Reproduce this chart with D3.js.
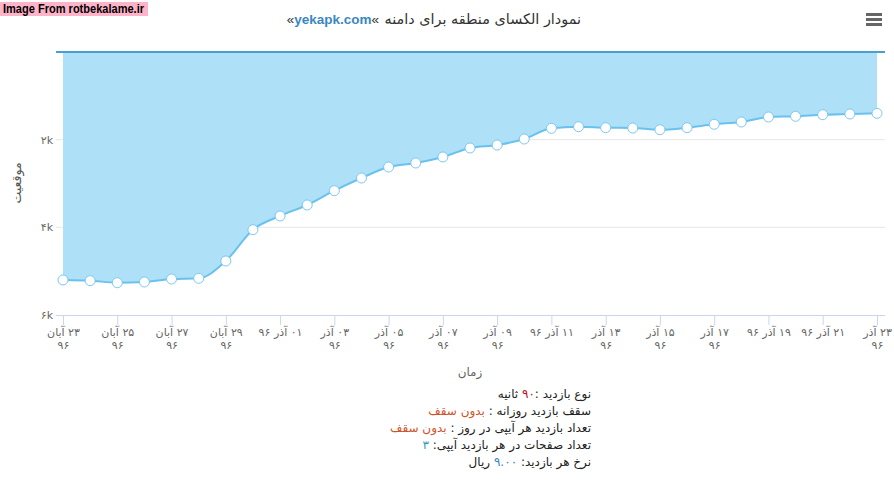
<!DOCTYPE html>
<html>
<head>
<meta charset="utf-8">
<script src="https://cdn.jsdelivr.net/npm/d3@7"></script>
<style>
  body { margin: 0; background: #fff; }
  #chart { position: relative; width: 894px; height: 504px; overflow: hidden; }
  #info {
    position: absolute; left: 330px; top: 386px; width: 261px;
    direction: rtl; text-align: right;
    font-family: "DejaVu Sans", sans-serif; font-size: 12px; line-height: 17px; color: #222;
  }
  #info .red { color: #b5121b; }
  #info .orange { color: #d0532a; }
  #info .teal { color: #2f9bb4; }
  #info .blue { color: #3a87c0; }
</style>
</head>
<body>
<div id="chart">
  <div id="info">
    <div>نوع بازدید :<span class="red">۹۰</span> ثانیه</div>
    <div>سقف بازدید روزانه : <span class="orange">بدون سقف</span></div>
    <div>تعداد بازدید هر آیپی در روز : <span class="orange">بدون سقف</span></div>
    <div>تعداد صفحات در هر بازدید آیپی: <span class="teal">۳</span></div>
    <div>نرخ هر بازدید: <span class="blue">۹.۰۰</span> ریال</div>
  </div>
</div>
<script>
// one point per day, 23 Aban 96 .. 23 Azar 96
const days = d3.range(31);

// Alexa regional rank (lower is better, axis reversed)
const rank = [5201, 5217, 5263, 5247, 5179, 5163, 4768, 4054, 3741, 3490, 3164,
  2875, 2624, 2532, 2395, 2190, 2122, 1985, 1741, 1704, 1727, 1734, 1773, 1727,
  1649, 1597, 1483, 1467, 1430, 1414, 1399];

// every other day has a label; "\n" marks where the label wraps
const tickDays = d3.range(0, 31, 2);
const tickLabels = ["۲۳ آبان\n۹۶", "۲۵ آبان\n۹۶", "۲۷ آبان\n۹۶", "۲۹ آبان\n۹۶",
  "۰۱ آذر ۹۶", "۰۳ آذر\n۹۶", "۰۵ آذر\n۹۶", "۰۷ آذر\n۹۶", "۰۹ آذر\n۹۶",
  "۱۱ آذر ۹۶", "۱۳ آذر\n۹۶", "۱۵ آذر\n۹۶", "۱۷ آذر\n۹۶", "۱۹ آذر ۹۶",
  "۲۱ آذر ۹۶", "۲۳ آذر\n۹۶"];

const yTicks = [2000, 4000, 6000];
const yTickLabels = ["۲k", "۴k", "۶k"];

const W = 894, H = 504;
const plotLeft = 56, plotRight = 885, plotTop = 52, plotBottom = 315;
const faFont = "'DejaVu Sans', sans-serif";
const latinFont = "'Liberation Sans', Arial, sans-serif";

const svg = d3.select("#chart").insert("svg", "#info")
  .attr("width", W).attr("height", H)
  .style("position", "absolute").style("left", 0).style("top", 0);

const x = d3.scaleLinear().domain([0, 30]).range([63, 877]);
const y = d3.scaleLinear().domain([0, 6000]).range([plotTop, plotBottom]);

// watermark
svg.append("rect").attr("x", 0).attr("y", 2).attr("width", 148).attr("height", 14)
  .attr("fill", "#ffb3c8");
svg.append("text").attr("x", 3).attr("y", 13)
  .attr("font-family", latinFont)
  .attr("font-size", 12).attr("font-weight", "bold").attr("fill", "#000")
  .attr("textLength", 141).attr("lengthAdjust", "spacingAndGlyphs")
  .text("Image From rotbekalame.ir");

// title: persian part on the right, domain on the left
svg.append("text").attr("x", 581).attr("y", 24)
  .attr("text-anchor", "end")
  .attr("font-family", faFont).attr("font-size", 14.4).attr("fill", "#333")
  .text("نمودار الکسای منطقه برای دامنه");
const dom = svg.append("text").attr("x", 379).attr("y", 24)
  .attr("text-anchor", "end").attr("direction", "ltr")
  .style("unicode-bidi", "bidi-override")
  .attr("font-family", latinFont).attr("font-size", 13.5).attr("fill", "#333");
dom.append("tspan").text("«");
dom.append("tspan").attr("fill", "#3a87c0").attr("font-weight", "bold").text("yekapk.com");
dom.append("tspan").text("«");

// menu button
svg.append("g").selectAll("rect").data([13, 18, 23]).join("rect")
  .attr("x", 866).attr("y", d => d).attr("width", 16).attr("height", 3)
  .attr("fill", "#666");

// grid lines
svg.append("g").selectAll("line").data(yTicks.slice(0, 2)).join("line")
  .attr("x1", plotLeft).attr("x2", plotRight)
  .attr("y1", d => y(d)).attr("y2", d => y(d))
  .attr("stroke", "#e6e6e6").attr("stroke-width", 1);

// y axis
const yAxis = d3.axisLeft(y).tickValues(yTicks).tickSize(0).tickPadding(3)
  .tickFormat((d, i) => yTickLabels[i]);
const gy = svg.append("g").attr("transform", `translate(${plotLeft},0)`).call(yAxis);
gy.select(".domain").remove();
gy.selectAll("text").attr("font-family", faFont).attr("font-size", 11).attr("fill", "#666");

svg.append("text")
  .attr("transform", "translate(21,183) rotate(-90)")
  .attr("text-anchor", "middle").attr("font-family", faFont)
  .attr("font-size", 12.5).attr("fill", "#555").text("موقعیت");

// area (threshold at 0, top of the reversed axis)
const area = d3.area().x((d, i) => x(days[i])).y0(y(0)).y1(d => y(d))
  .curve(d3.curveMonotoneX);
const line = d3.line().x((d, i) => x(days[i])).y(d => y(d))
  .curve(d3.curveMonotoneX);

svg.append("path").datum(rank).attr("d", area).attr("fill", "#aee0f7");

svg.append("line").attr("x1", plotLeft).attr("x2", plotRight)
  .attr("y1", plotTop).attr("y2", plotTop)
  .attr("stroke", "#4a9fd0").attr("stroke-width", 2);

svg.append("path").datum(rank).attr("d", line)
  .attr("fill", "none").attr("stroke", "#69c2ee").attr("stroke-width", 2);

svg.append("g").selectAll("circle").data(rank).join("circle")
  .attr("cx", (d, i) => x(days[i])).attr("cy", d => y(d)).attr("r", 5)
  .attr("fill", "#fff").attr("stroke", "#7cc8f0").attr("stroke-width", 1);

// x axis
svg.append("line").attr("x1", plotLeft).attr("x2", plotRight)
  .attr("y1", plotBottom + 0.5).attr("y2", plotBottom + 0.5)
  .attr("stroke", "#ccd6eb");

const xAxis = d3.axisBottom(x).tickValues(tickDays).tickSize(10).tickFormat("");
const gx = svg.append("g").attr("transform", `translate(0,${plotBottom})`).call(xAxis);
gx.select(".domain").remove();
gx.selectAll(".tick line").attr("stroke", "#ccd6eb");

gx.selectAll(".tick").each(function(d, i) {
  const lines = tickLabels[i].split("\n");
  const t = d3.select(this).append("text")
    .attr("text-anchor", "middle").attr("direction", "rtl")
    .attr("font-family", faFont).attr("font-size", 11).attr("fill", "#666");
  lines.forEach((s, k) => {
    t.append("tspan").attr("x", 0).attr("y", 21 + k * 13).text(s);
  });
});

svg.append("text").attr("x", 470).attr("y", 376)
  .attr("text-anchor", "middle").attr("font-family", faFont)
  .attr("font-size", 12).attr("fill", "#666").text("زمان");
</script>
</body>
</html>
